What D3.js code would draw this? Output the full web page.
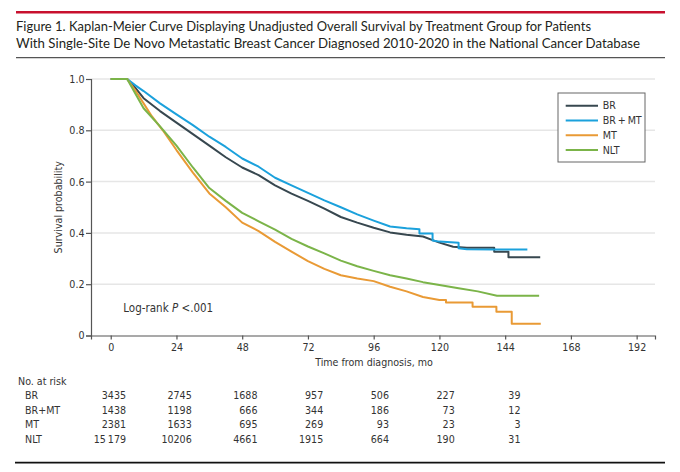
<!DOCTYPE html>
<html>
<head>
<meta charset="utf-8">
<script src="https://cdn.jsdelivr.net/npm/d3@7"></script>
<style>
  body { margin: 0; background: #fff; }
  .title { font-family: Lato, "Noto Sans", sans-serif; font-size: 13px; fill: #231f20; }
  .chart-text, .tick text { font-family: "DejaVu Sans Condensed", "Liberation Sans Narrow", sans-serif; font-size: 10.6px; fill: #333; }
  .grid-line { stroke: #e6e6e6; stroke-width: 1.5; }
</style>
</head>
<body>
<div id="chart"></div>
<script>
// chart data
const timeTicks = [0, 24, 48, 72, 96, 120, 144, 168, 192];
const survTicks = [0, 0.2, 0.4, 0.6, 0.8, 1.0];
const groups = ['BR', 'BR+MT', 'MT', 'NLT'];
const legendLabels = ['BR', 'BR\u2009+\u2009MT', 'MT', 'NLT'];
const groupColors = ['#37474f', '#1ba1dc', '#e99a35', '#7bb449'];

// [months, survival]; repeated months are the visible steps
const curveBR = [[0, 1], [6, 1], [9, 0.965], [12, 0.925], [18, 0.875], [24, 0.83], [30, 0.785], [36, 0.74],
  [42, 0.695], [48, 0.655], [54, 0.625], [60, 0.585], [66, 0.553], [72, 0.525], [78, 0.495], [84, 0.462],
  [90, 0.44], [96, 0.42], [102, 0.402], [108, 0.393], [114, 0.386], [118, 0.37], [120, 0.362], [125, 0.346],
  [130, 0.342], [140, 0.342], [140, 0.327], [145.2, 0.327], [145.2, 0.305], [156.8, 0.305]];
const curveBRMT = [[0, 1], [6, 1], [9, 0.975], [12, 0.953], [18, 0.905], [24, 0.862], [30, 0.82], [36, 0.775],
  [42, 0.735], [48, 0.69], [54, 0.658], [60, 0.615], [66, 0.585], [72, 0.556], [78, 0.527], [84, 0.5],
  [90, 0.472], [96, 0.448], [102, 0.425], [108, 0.418], [112.7, 0.414], [112.7, 0.398], [117.5, 0.398],
  [117.5, 0.37], [120, 0.366], [127, 0.362], [127, 0.34], [130, 0.336], [140, 0.335], [152.1, 0.335]];
const curveMT = [[0, 1], [6, 1], [9, 0.955], [12, 0.905], [15, 0.855], [19, 0.8], [24, 0.723], [30, 0.635],
  [36, 0.554], [42, 0.5], [48, 0.44], [54, 0.407], [60, 0.365], [66, 0.327], [72, 0.29], [78, 0.26],
  [84, 0.235], [90, 0.222], [96, 0.212], [102, 0.19], [108, 0.172], [114, 0.15], [120, 0.138], [122.4, 0.138],
  [122.4, 0.129], [132.1, 0.129], [132.1, 0.112], [140.8, 0.112], [140.8, 0.093], [146.4, 0.093],
  [146.4, 0.046], [157, 0.046]];
const curveNLT = [[0, 1], [6, 1], [12, 0.886], [18, 0.815], [24, 0.74], [30, 0.655], [36, 0.575], [42, 0.525],
  [48, 0.478], [54, 0.445], [60, 0.413], [66, 0.377], [72, 0.347], [78, 0.32], [84, 0.292], [90, 0.27],
  [96, 0.252], [102, 0.235], [108, 0.222], [114, 0.208], [120, 0.197], [127, 0.184], [134, 0.172],
  [141, 0.155], [156.4, 0.155]];
const curves = [curveBR, curveBRMT, curveMT, curveNLT];

// number at risk table
const riskTimes = [0, 24, 48, 72, 96, 120, 144];
const riskBR = ['3435', '2745', '1688', '957', '506', '227', '39'];
const riskBRMT = ['1438', '1198', '666', '344', '186', '73', '12'];
const riskMT = ['2381', '1633', '695', '269', '93', '23', '3'];
const riskNLT = ['15\u2009179', '10206', '4661', '1915', '664', '190', '31'];
const riskRows = [riskBR, riskBRMT, riskMT, riskNLT];

const titleLines = [
  'Figure 1. Kaplan-Meier Curve Displaying Unadjusted Overall Survival by Treatment Group for Patients',
  'With Single-Site De Novo Metastatic Breast Cancer Diagnosed 2010-2020 in the National Cancer Database'
];
const titleWidths = [575, 624];

// set the dimensions and margins of the graph
const total_width = 680, total_height = 472;
const margin = {top: 79, right: 25, bottom: 136.5, left: 91},
    width = total_width - margin.left - margin.right,
    height = total_height - margin.top - margin.bottom;

const svgRoot = d3.select('#chart')
  .append('svg')
    .attr('width', total_width)
    .attr('height', total_height);

// title block with rules
svgRoot.append('line')
  .attr('x1', 16).attr('x2', 665).attr('y1', 12.3).attr('y2', 12.3)
  .attr('stroke', '#c8102e').attr('stroke-width', 2.5);
svgRoot.selectAll('.title')
  .data(titleLines)
  .join('text')
    .attr('class', 'title')
    .attr('x', 16)
    .attr('y', (d, i) => 30.7 + i * 17.5)
    .attr('textLength', (d, i) => titleWidths[i])
    .attr('lengthAdjust', 'spacingAndGlyphs')
    .text(d => d);
svgRoot.append('line')
  .attr('x1', 16).attr('x2', 665).attr('y1', 57.7).attr('y2', 57.7)
  .attr('stroke', '#555').attr('stroke-width', 1.3);
svgRoot.append('line')
  .attr('x1', 15).attr('x2', 665).attr('y1', 462.7).attr('y2', 462.7)
  .attr('stroke', '#111').attr('stroke-width', 1.8);

const svg = svgRoot.append('g')
  .attr('transform', `translate(${margin.left},${margin.top})`);

// scales: the axis line starts a little before month 0
const x = d3.scaleLinear().domain([-7.2, 198.7]).range([0, width]);
const y = d3.scaleLinear().domain([0, 1]).range([height, 0]);

// grid
svg.append('g')
  .selectAll('line')
  .data(survTicks.filter(d => d > 0))
  .join('line')
    .attr('class', 'grid-line')
    .attr('x1', 0).attr('x2', width)
    .attr('y1', d => y(d)).attr('y2', d => y(d));

// axes
const xAxis = svg.append('g')
  .attr('transform', `translate(0,${height})`)
  .call(d3.axisBottom(x).tickValues(timeTicks).tickSizeOuter(0).tickSize(4).tickPadding(3.5));
const yAxis = svg.append('g')
  .call(d3.axisLeft(y).tickValues(survTicks).tickSizeOuter(0).tickSize(5).tickPadding(1.5)
    .tickFormat(d => d === 0 ? '0' : d.toFixed(1)));
[xAxis, yAxis].forEach(a => {
  a.selectAll('path, line').attr('stroke', '#555').attr('stroke-width', 1.2);
  a.selectAll('text').attr('fill', '#333');
});

// axis labels
svg.append('text')
  .attr('class', 'chart-text')
  .attr('text-anchor', 'middle')
  .attr('transform', `translate(${-29},${height / 2}) rotate(-90)`)
  .text('Survival probability');
svg.append('text')
  .attr('class', 'chart-text')
  .attr('text-anchor', 'middle')
  .attr('x', width / 2 + 1)
  .attr('y', height + 30)
  .text('Time from diagnosis, mo');

// curves
const line = d3.line().x(d => x(d[0])).y(d => y(d[1]));
svg.append('g')
  .selectAll('path')
  .data(curves)
  .join('path')
    .attr('fill', 'none')
    .attr('stroke', (d, i) => groupColors[i])
    .attr('stroke-width', 2)
    .attr('stroke-linejoin', 'round')
    .attr('d', line);

// log-rank annotation
const logRank = svg.append('text')
  .attr('class', 'chart-text')
  .attr('x', 32.3)
  .attr('y', 233)
  .style('font-size', '11.5px');
logRank.append('tspan').text('Log-rank ');
logRank.append('tspan').style('font-style', 'italic').text('P');
logRank.append('tspan').text(' <.001');

// legend
const legend = svgRoot.append('g').attr('transform', 'translate(558,93)');
legend.append('rect')
  .attr('width', 87).attr('height', 69)
  .attr('fill', '#fff').attr('stroke', '#666').attr('stroke-width', 1);
const legendItem = legend.selectAll('.legend-item')
  .data(legendLabels)
  .join('g')
    .attr('class', 'legend-item')
    .attr('transform', (d, i) => `translate(0,${12.7 + i * 14.8})`);
legendItem.append('line')
  .attr('x1', 7.7).attr('x2', 40)
  .attr('stroke', (d, i) => groupColors[i])
  .attr('stroke-width', 2);
legendItem.append('text')
  .attr('class', 'chart-text')
  .attr('x', 44.7)
  .attr('dy', '0.35em')
  .text(d => d);

// number at risk
svgRoot.append('text')
  .attr('class', 'chart-text')
  .attr('x', 18)
  .attr('y', 384.5)
  .text('No. at risk');
const riskRow = svgRoot.selectAll('.risk-row')
  .data(riskRows)
  .join('g')
    .attr('class', 'risk-row')
    .attr('transform', (d, i) => `translate(0,${399 + i * 14.6})`);
riskRow.append('text')
  .attr('class', 'chart-text')
  .attr('x', 25)
  .text((d, i) => groups[i]);
riskRow.selectAll('.risk-num')
  .data(d => d)
  .join('text')
    .attr('class', 'chart-text risk-num')
    .attr('text-anchor', 'end')
    .attr('x', (d, i) => margin.left + x(riskTimes[i]) + 15.3)
    .text(d => d);
</script>
</body>
</html>
